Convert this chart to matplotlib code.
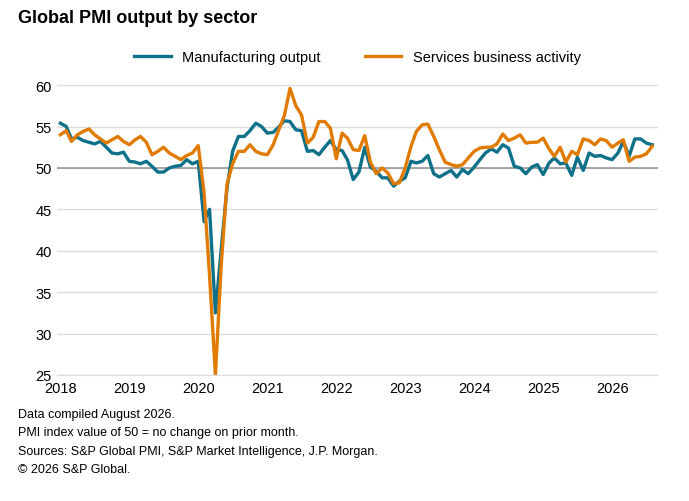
import numpy as np
import pandas as pd
import matplotlib
matplotlib.use("Agg")
import matplotlib.pyplot as plt

plt.rcParams["font.family"] = ["Liberation Sans", "DejaVu Sans"]

months = pd.date_range("2018-01-01", "2026-08-01", freq="MS")

manufacturing = [
    55.4, 55.0, 53.5, 53.7, 53.3, 53.1, 52.9, 53.2, 52.5, 51.8, 51.7, 51.9,
    50.8, 50.7, 50.5, 50.8, 50.2, 49.5, 49.5, 50.0, 50.2, 50.3, 51.0, 50.5,
    50.8, 43.5, 45.0, 32.5, 40.0, 47.5, 52.0, 53.8, 53.8, 54.5, 55.4, 55.0,
    54.2, 54.3, 54.9, 55.7, 55.6, 54.6, 54.5, 52.0, 52.1, 51.6, 52.5, 53.3,
    52.2, 52.1, 51.0, 48.6, 49.5, 52.5, 50.1, 49.6, 48.8, 48.8, 47.8, 48.4,
    48.8, 50.8, 50.6, 50.8, 51.5, 49.3, 48.9, 49.3, 49.7, 48.9, 49.8, 49.3,
    50.1, 51.0, 51.8, 52.3, 51.9, 52.8, 52.4, 50.2, 50.0, 49.3, 50.1, 50.4,
    49.2, 50.6, 51.2, 50.5, 50.6, 49.1, 51.3, 49.7, 51.8, 51.4, 51.5, 51.2,
    51.0, 51.8, 53.2, 51.4, 53.5, 53.5, 53.0, 52.8,
]
services = [
    54.0, 54.5, 53.2, 54.0, 54.4, 54.7, 54.0, 53.5, 53.0, 53.4, 53.8, 53.2,
    52.8, 53.4, 53.8, 53.1, 51.6, 52.0, 52.5, 51.8, 51.4, 51.0, 51.5, 51.8,
    52.7, 47.0, 37.0, 25.0, 38.0, 48.0, 50.5, 52.0, 52.0, 52.8, 52.0, 51.7,
    51.6, 52.8, 54.5, 56.3, 59.6, 57.5, 56.4, 53.0, 53.7, 55.6, 55.6, 54.8,
    51.1, 54.2, 53.6, 52.2, 52.1, 53.9, 50.7, 49.3, 50.0, 49.4, 48.1, 48.2,
    50.0, 52.6, 54.4, 55.2, 55.3, 53.8, 52.2, 50.7, 50.4, 50.2, 50.4, 51.2,
    52.0, 52.4, 52.5, 52.5, 52.9, 54.1, 53.3, 53.6, 54.0, 53.0, 53.1, 53.1,
    53.6, 52.3, 51.4, 52.5, 50.7, 52.0, 51.6, 53.5, 53.3, 52.8, 53.5, 53.3,
    52.5, 53.0, 53.4, 50.8, 51.3, 51.4, 51.7, 52.6,
]
years = list(range(2018, 2027))
notes = [
    "Data compiled August 2026.",
    "PMI index value of 50 = no change on prior month.",
    "Sources: S&P Global PMI, S&P Market Intelligence, J.P. Morgan.",
    "\u00a9 2026 S&P Global.",
]

fig = plt.figure(figsize=(6.89, 5.02), dpi=100)
ax = fig.add_axes([0.083, 0.251, 0.872, 0.594])

ax.plot(months, manufacturing, color="#0e7089", lw=2.4, label="Manufacturing output")
ax.plot(months, services, color="#e07b00", lw=2.4, label="Services business activity")
ax.axhline(50, color="#999999", lw=1.2, zorder=1)

ax.set_ylim(25, 61)
ax.set_yticks(range(25, 61, 5))
ax.set_xlim(pd.Timestamp("2017-12-15"), pd.Timestamp("2026-09-01"))
ax.set_xticks([pd.Timestamp(f"{y}-01-01") for y in years])
ax.set_xticklabels([str(y) for y in years])
ax.grid(axis="y", color="#dddddd", lw=1)
ax.set_axisbelow(True)
for s in ["top", "right", "left"]:
    ax.spines[s].set_visible(False)
ax.spines["bottom"].set_color("#dddddd")
ax.tick_params(length=0, labelsize=10.5, pad=4)

fig.text(0.026, 0.955, "Global PMI output by sector", fontsize=13, fontweight="bold")
ax.legend(loc="lower center", bbox_to_anchor=(0.5, 1.0), ncol=2, frameon=False,
          fontsize=10.5, handlelength=2.5, columnspacing=3)

for i, t in enumerate(notes):
    fig.text(0.026, 0.168 - i * 0.037, t, fontsize=9)

fig.savefig("out.png")
